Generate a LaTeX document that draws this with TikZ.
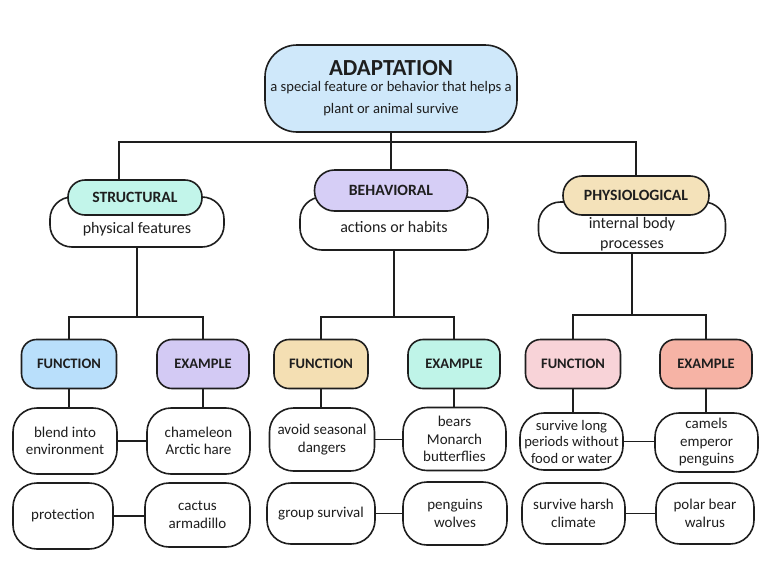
\documentclass[tikz,border=0pt]{standalone}
\usepackage{fontspec}
\setmainfont{Carlito}
\definecolor{ink}{HTML}{1E1E1E}
\definecolor{cadapt}{HTML}{CFE8FA}
\definecolor{cmint}{HTML}{C2F5EA}
\definecolor{clav}{HTML}{D6CEF6}
\definecolor{ctan}{HTML}{F4E2BA}
\definecolor{cblue}{HTML}{B9DFFB}
\definecolor{clavb}{HTML}{D3CAF4}
\definecolor{ctanb}{HTML}{F4DFB3}
\definecolor{cmintb}{HTML}{BFF4E8}
\definecolor{cpink}{HTML}{F8D3D8}
\definecolor{csalmon}{HTML}{F6B3A5}
\begin{document}
\begin{tikzpicture}[x=1pt,y=-1pt,
  base/.style={draw=ink, line width=1.6pt, text=ink, align=center, inner sep=1pt},
  topbox/.style={base, rounded corners=32pt, fill=cadapt, font=\fontsize{14.6}{22}\selectfont},
  catlabel/.style={base, minimum height=#1, rounded corners=17pt, font=\fontsize{15.7}{17}\selectfont\bfseries},
  descbox/.style={base, fill=white, rounded corners=22pt},
  desctext/.style={text=ink, align=center, font=\fontsize{16}{20}\selectfont},
  kindbox/.style={base, minimum height=49pt, rounded corners=15pt, font=\fontsize{14.5}{16}\selectfont\bfseries},
  itembox/.style={base, fill=white, rounded corners=24pt, font=\fontsize{15}{17.5}\selectfont},
  conn/.style={draw=ink, line width=1.5pt}
]
\useasboundingbox[fill=white] (0,0) rectangle (768,576);

% top
\node[topbox, minimum width=252pt, minimum height=87pt] (top) at (391,88.5)
  {{\fontsize{23}{24}\selectfont\bfseries ADAPTATION}\\[-6pt]
   a special feature or behavior that helps a\\ plant or animal survive};

% categories
\node[descbox, minimum width=174pt, minimum height=50pt] (std) at (137,222) {};
\node[desctext] (stdt) at (137,229) {physical features};
\node[catlabel=35pt, fill=cmint, minimum width=134pt] (stl) at (135,197.5) {STRUCTURAL};

\node[descbox, minimum width=188pt, minimum height=53pt] (bhd) at (394,223.5) {};
\node[desctext] (bhdt) at (394,227) {actions or habits};
\node[catlabel=41pt, fill=clav, minimum width=153pt, rounded corners=20pt] (bhl) at (391,190.5) {BEHAVIORAL};

\node[descbox, minimum width=187pt, minimum height=51pt] (phd) at (632,227.5) {};
\node[desctext] (phdt) at (632,234) {internal body\\processes};
\node[catlabel=39pt, fill=ctan, minimum width=146pt, rounded corners=19pt] (phl) at (636,195.5) {PHYSIOLOGICAL};

% function / example
\node[kindbox, fill=cblue, minimum width=95pt] (sf) at (69,364) {FUNCTION};
\node[kindbox, fill=clavb, minimum width=92pt] (se) at (203,364) {EXAMPLE};
\node[kindbox, fill=ctanb, minimum width=94pt] (bf) at (321,364) {FUNCTION};
\node[kindbox, fill=cmintb, minimum width=92pt] (be) at (454,364) {EXAMPLE};
\node[kindbox, fill=cpink, minimum width=95pt] (pf) at (573,364) {FUNCTION};
\node[kindbox, fill=csalmon, minimum width=92pt] (pe) at (706,364) {EXAMPLE};

% items
\node[itembox, minimum width=104pt, minimum height=66pt] (s1f) at (65,441) {blend into\\environment};
\node[itembox, minimum width=103pt, minimum height=66pt] (s1e) at (198.5,441) {chameleon\\Arctic hare};
\node[itembox, minimum width=100pt, minimum height=66pt] (s2f) at (63,516) {protection};
\node[itembox, minimum width=105pt, minimum height=64pt] (s2e) at (197.5,515) {cactus\\armadillo};

\node[itembox, minimum width=105pt, minimum height=63pt] (b1f) at (322,439.5) {avoid seasonal\\dangers};
\node[itembox, minimum width=103pt, minimum height=63pt] (b1e) at (454.5,439) {bears\\Monarch\\butterflies};
\node[itembox, minimum width=108pt, minimum height=61pt] (b2f) at (321,513.5) {group survival};
\node[itembox, minimum width=104pt, minimum height=63pt] (b2e) at (455,513.5) {penguins\\wolves};

\node[itembox, minimum width=103pt, minimum height=57pt, font=\fontsize{14.6}{16.5}\selectfont] (p1f) at (571.5,441.5) {survive long\\periods without\\food or water};
\node[itembox, minimum width=103pt, minimum height=59pt] (p1e) at (706.5,442.5) {camels\\emperor\\penguins};
\node[itembox, minimum width=103pt, minimum height=61pt] (p2f) at (573.5,513.5) {survive harsh\\climate};
\node[itembox, minimum width=98pt, minimum height=61pt] (p2e) at (705,513.5) {polar bear\\walrus};

% connectors top level
\coordinate (bus) at (0,142);
\draw[conn] ([xshift=-16pt]stl.north) |- (bus -| phl.north) -- (phl.north);
\draw[conn] (top.south) -- (bhl.north);

% category to kinds
\draw[conn] (std.south) -- ++(0,69) coordinate (sj);
\draw[conn] (sf.north) |- (sj) -| (se.north);
\draw[conn] (bhd.south) -- ++(0,66) coordinate (bj);
\draw[conn] (bf.north) |- (bj) -| (be.north);
\draw[conn] (phd.south) -- ++(0,61) coordinate (pj);
\draw[conn] (pf.north) |- (pj) -| (pe.north);

% kinds to items
\draw[conn] (sf.south) -- (sf.south |- s1f.north);
\draw[conn] (se.south) -- (se.south |- s1e.north);
\draw[conn] (bf.south) -- (bf.south |- b1f.north);
\draw[conn] (be.south) -- (be.south |- b1e.north);
\draw[conn] (pf.south) -- (pf.south |- p1f.north);
\draw[conn] (pe.south) -- (pe.south |- p1e.north);

% function to example
\draw[conn] (s1f.east) -- (s1f.east -| s1e.west);
\draw[conn] (s2f.east) -- (s2f.east -| s2e.west);
\draw[conn] (b1f.east) -- (b1f.east -| b1e.west);
\draw[conn] (b2f.east) -- (b2f.east -| b2e.west);
\draw[conn] (p1f.east) -- (p1f.east -| p1e.west);
\draw[conn] (p2f.east) -- (p2f.east -| p2e.west);
\end{tikzpicture}
\end{document}
